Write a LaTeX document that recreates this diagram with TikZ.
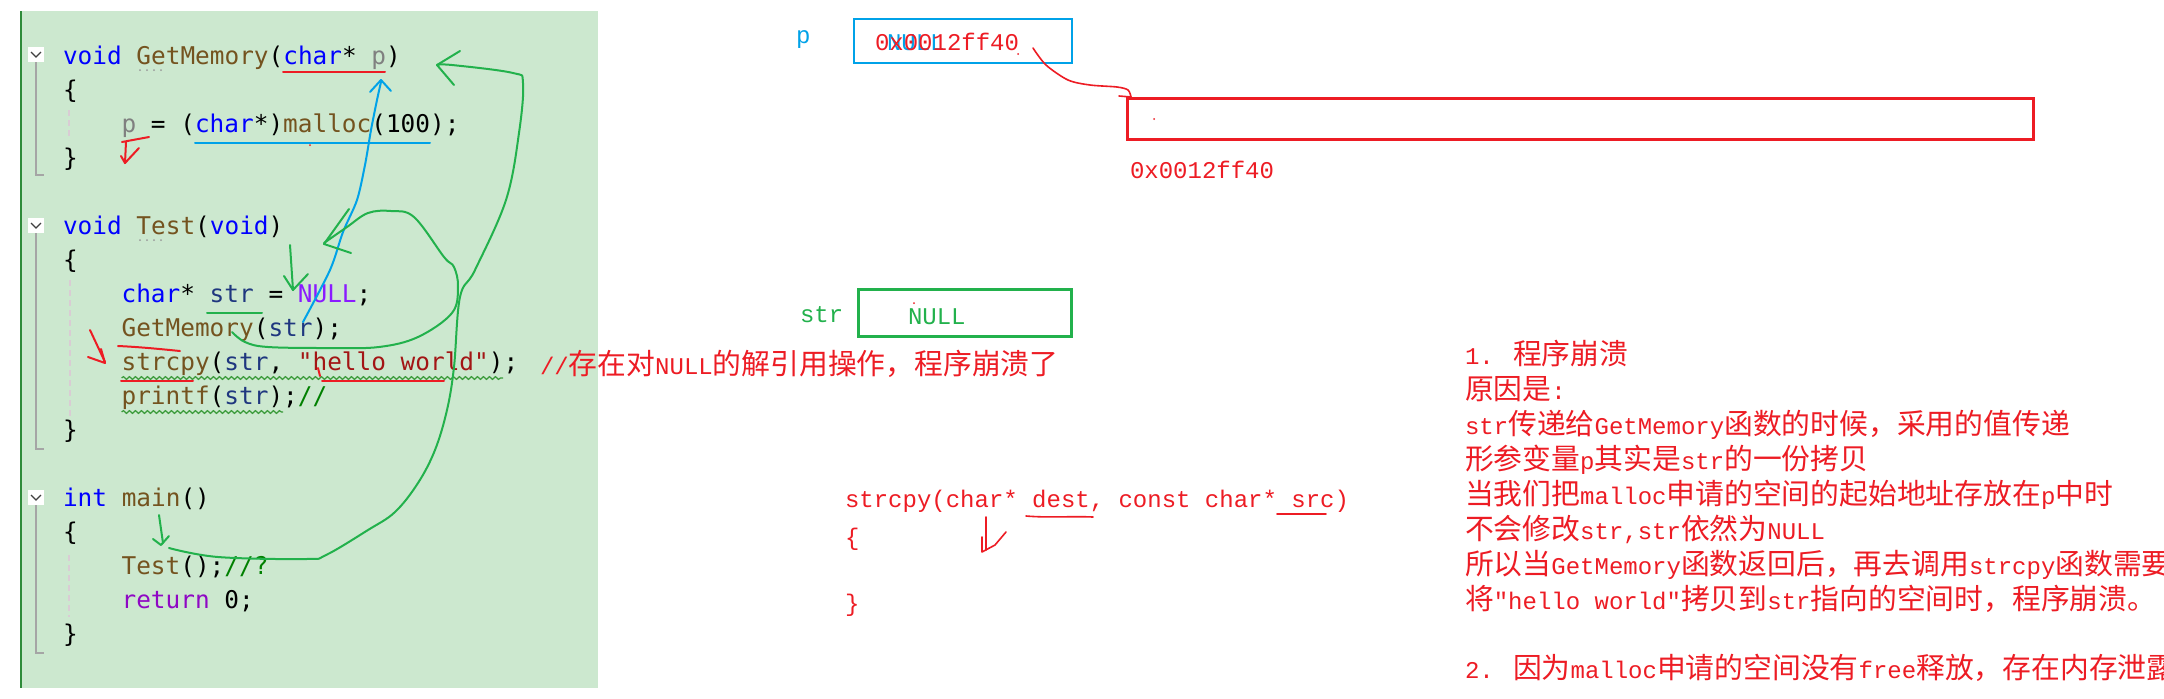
\documentclass[tikz,border=0pt]{standalone}
\usepackage{fontspec}
\usetikzlibrary{decorations.pathmorphing}
\newfontfamily\codefont{DejaVu Sans Mono}
\newfontfamily\cjk{Noto Sans CJK SC}
\newfontfamily\lat{Liberation Mono}[Scale=0.8333]
\newcommand\dq{\XeTeXglyph\XeTeXcharglyph"22\relax}
\newcommand\latx[1]{{\lat #1}}
\definecolor{kw}{HTML}{0000FF}
\definecolor{fnc}{HTML}{74531F}
\definecolor{parc}{HTML}{808080}
\definecolor{locc}{HTML}{1F377F}
\definecolor{macc}{HTML}{8A1BFF}
\definecolor{strc}{HTML}{A31515}
\definecolor{ctlc}{HTML}{8F08C4}
\definecolor{cmtc}{HTML}{008000}
\definecolor{panelc}{HTML}{CCE8CF}
\definecolor{borderc}{HTML}{2E8B3A}
\definecolor{pgreen}{HTML}{22B14C}
\definecolor{pblue}{HTML}{00A2E8}
\definecolor{pred}{HTML}{ED1C24}
\definecolor{sqc}{HTML}{3A9A3A}
\definecolor{foldc}{HTML}{A5A5A5}
\definecolor{guidec}{HTML}{D9CCD4}
\newcommand\cK[1]{\textcolor{kw}{#1}}
\newcommand\cF[1]{\textcolor{fnc}{#1}}
\newcommand\cP[1]{\textcolor{parc}{#1}}
\newcommand\cL[1]{\textcolor{locc}{#1}}
\newcommand\cM[1]{\textcolor{macc}{#1}}
\newcommand\cS[1]{\textcolor{strc}{#1}}
\newcommand\cR[1]{\textcolor{ctlc}{#1}}
\newcommand\cC[1]{\textcolor{cmtc}{#1}}
\tikzset{
  code/.style={anchor=base west, inner sep=0, outer sep=0, font=\codefont\fontsize{12.2}{14}\selectfont},
  ann/.style={anchor=base west, inner sep=0, outer sep=0, font=\cjk\fontsize{14.4}{17}\selectfont, text=pred},
  pen/.style={line width=1pt, line cap=round, line join=round},
  sq/.style={sqc, line width=0.6pt, decorate, decoration={snake, segment length=3pt, amplitude=0.7pt}},
  fold/.style={foldc, line width=0.9pt},
  guide/.style={guidec, line width=0.8pt, dash pattern=on 3pt off 2pt},
  dotm/.style={fill=gray!80}
}
\begin{document}
\begin{tikzpicture}[x=0.5pt,y=-0.5pt]
\useasboundingbox (0,0) rectangle (2164,698);
\fill[white] (0,0) rectangle (2164,698);
% code panel
\fill[panelc] (22,11) rectangle (598,688);
\draw[borderc, line width=1pt] (21,11) -- (21,688);
% fold markers
\foreach \ya/\yb in {55/175, 226/449, 498/653}{
  \draw[fold] (36,\ya+6) -- (36,\yb) -- (44,\yb);
  \fill[white] (28,\ya-8) rectangle (44,\ya+7);
  \draw[black!75, line width=0.6pt] (31,\ya-3) -- (36,\ya+2) -- (41,\ya-3);
}
\draw[guide] (69,110) -- (69,140);
\draw[guide] (70,280) -- (70,417);
\draw[guide] (69,555) -- (69,617);
% code
\node[code] (l0) at (63,64) {\cK{void} \cF{GetMemory}(\cK{char}* \cP{p})};
\node[code] (l1) at (63,98) {\{};
\node[code] (l2) at (121.6,132) {\cP{p} = (\cK{char}*)\cF{malloc}(100);};
\node[code] (l3) at (63,166) {\}};
\node[code] (l5) at (63,234) {\cK{void} \cF{Test}(\cK{void})};
\node[code] (l6) at (63,268) {\{};
\node[code] (l7) at (121.6,302) {\cK{char}* \cL{str} = \cM{NULL};};
\node[code] (l8) at (121.6,336) {\cF{GetMemory}(\cL{str});};
\node[code] (l9) at (121.6,370) {\cF{strcpy}(\cL{str}, \cS{\dq hello world\dq});};
\node[code] (l10) at (121.6,404) {\cF{printf}(\cL{str});\cC{//}};
\node[code] (l11) at (63,438) {\}};
\node[code] (l13) at (63,506) {\cK{int} \cF{main}()};
\node[code] (l14) at (63,540) {\{};
\node[code] (l15) at (121.6,574) {\cF{Test}();\cC{//?}};
\node[code] (l16) at (121.6,608) {\cR{return} 0;};
\node[code] (l17) at (63,642) {\}};
% suggestion dots
\foreach \xx in {140,147,154,161}{
  \fill[dotm] (\xx,70) circle (1);
  \fill[dotm] (\xx,240) circle (1);
}
% squiggles
\draw[sq] (121.6,378) -- (503,378);
\draw[sq] (121.6,412) -- (283,412);
% comment after strcpy
\node[ann] (cmt) at (540,374) {\latx{//}存在对\latx{NULL}的解引用操作，程序崩溃了};
% hand-drawn marks in panel
\draw[pen,pred] (283,72) -- (385,72);
\draw[pen,pblue] (195,143) -- (430,143);
\fill[pred] (310,145) circle (1);
\draw[pen,pred] (122,142) -- (149,137);
\draw[pen,pred] (126,142) -- (125,163);
\draw[pen,pred] (139,148) -- (125,163) -- (121,156);
\draw[pen,pblue] plot[smooth] coordinates {(303,322) (330,270) (343,232) (357,200) (365,165) (371,130) (377,100) (381,82)};
\draw[pen,pblue] (370,92) -- (381,80) -- (391,91);
\draw[pen,pgreen] (207,313) -- (262,313);
\draw[pen,pgreen] (290,245) -- (293,290);
\draw[pen,pgreen] (284,276) -- (293,290) -- (308,274);
\draw[pen,pgreen] plot[smooth, tension=0.6] coordinates {(232,332) (245,342) (268,347) (330,348) (379,347) (418,337) (452,313) (458,287) (454,267) (444,257) (414,217) (391,211) (368,213) (347,227) (324,243)};
\draw[pen,pgreen] (349,209) -- (324,244) -- (351,253);
\draw[pen,pred] (118,346) .. controls (140,347) and (160,349) .. (180,351);
\draw[pen,pred] (90,330) -- (105,362);
\draw[pen,pred] (88,357) -- (105,363) -- (101,349);
\draw[pen,pred] (121,381) -- (193,381);
\draw[pen,pred] (322,381) -- (444,381);
\draw[pen,pred] (318,368) -- (320,376);
\draw[pen,pgreen] (159,515) -- (163,543);
\draw[pen,pgreen] (153,539) -- (161,545) -- (169,536);
\draw[pen,pgreen] plot[smooth, tension=0.6] coordinates {(169,548) (218,557) (306,559) (326,555) (368,530) (395,512) (418,483) (435,450) (447,410) (454,367) (460,297) (475,270) (506,200) (519,133) (523,83) (513,73) (452,65) (437,65)};
\draw[pen,pgreen] (460,51) -- (437,65) -- (454,85);
% memory diagram
\node[ann, text=pblue] (plab) at (796,43) {\lat p};
\node[draw=pblue, line width=1.4pt, minimum width=109pt, minimum height=22pt, inner sep=0] (pbox) at (963,41) {};
\node[ann, text=pblue] (pnull) at (887,50) {\lat NULL};
\node[ann] (pval) at (875,50) {\lat 0x0012ff40};
\fill[pred] (1018,54) circle (1);
\node[draw=pred, line width=1.5pt, minimum width=453pt, minimum height=20.5pt, inner sep=0] (mbox) at (1580,118.5) {};
\fill[pred] (1154,119) circle (1);
\node[ann] (maddr) at (1130,178) {\lat 0x0012ff40};
\draw[pen,pred,line width=0.8pt] plot[smooth] coordinates {(1033,48) (1046,65) (1068,80) (1090,85) (1117,87) (1128,90) (1131,97)};
\draw[pen,pred,line width=0.8pt] (1119,96) -- (1131,97);
\node[ann, text=pgreen] (slab) at (800,322) {\lat str};
\node[draw=pgreen, line width=1.5pt, minimum width=106.5pt, minimum height=23.5pt, inner sep=0] (sbox) at (964.5,312.5) {};
\node[ann, text=pgreen] (snull) at (908,324) {\lat NULL};
\fill[pred] (914,303) circle (1);
% strcpy signature
\node[ann] (sig) at (845,507) {\lat strcpy(char* dest, const char* src)};
\node[ann] (sigo) at (845,545) {\lat \{};
\node[ann] (sigc) at (845,611) {\lat \}};
\draw[pen,pred,line width=0.8pt] (1026,516) .. controls (1050,518) and (1070,516) .. (1093,517);
\draw[pen,pred,line width=0.8pt] (1277,514) -- (1326,514);
\draw[pen,pred,line width=0.8pt] (986,517) -- (986,550);
\draw[pen,pred,line width=0.8pt] (982,537) -- (982,552) -- (995,545) -- (1006,532);
% explanation
\node[ann] (r1) at (1465,364) {\latx{1. }程序崩溃};
\node[ann] (r2) at (1465,399) {原因是\latx{:}};
\node[ann] (r3) at (1465,434) {\latx{str}传递给\latx{GetMemory}函数的时候，采用的值传递};
\node[ann] (r4) at (1465,469) {形参变量\latx{p}其实是\latx{str}的一份拷贝};
\node[ann] (r5) at (1465,504) {当我们把\latx{malloc}申请的空间的起始地址存放在\latx{p}中时};
\node[ann] (r6) at (1465,539) {不会修改\latx{str,str}依然为\latx{NULL}};
\node[ann] (r7) at (1465,574) {所以当\latx{GetMemory}函数返回后，再去调用\latx{strcpy}函数需要};
\node[ann] (r8) at (1465,609) {将\latx{\dq hello world\dq}拷贝到\latx{str}指向的空间时，程序崩溃。};
\node[ann] (r9) at (1465,678) {\latx{2. }因为\latx{malloc}申请的空间没有\latx{free}释放，存在内存泄露};
\end{tikzpicture}
\end{document}
